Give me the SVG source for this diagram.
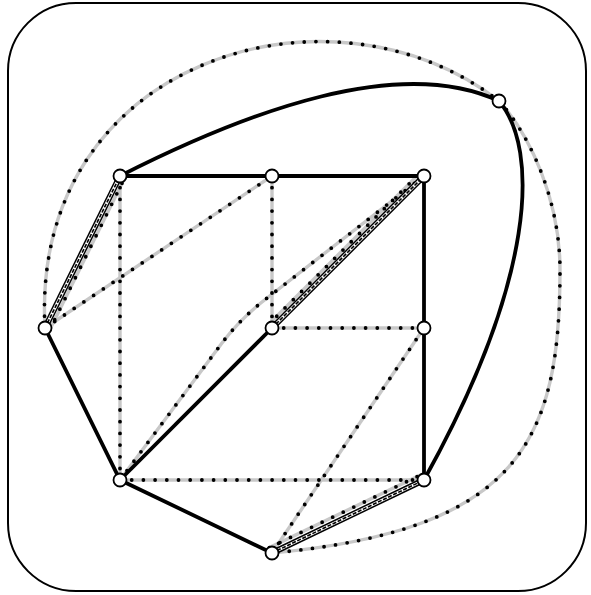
<svg xmlns="http://www.w3.org/2000/svg" xmlns:xlink="http://www.w3.org/1999/xlink" width="591" height="595" viewBox="0 0 591 595">
<style>
.frame{fill:none;stroke:#000;stroke-width:2}
.gl{fill:none;stroke:#c8c8c8;stroke-width:3.4}
.dt{fill:none;stroke:#000;stroke-width:3.8;stroke-linecap:round;stroke-dasharray:0 11.7}
.thick{fill:none;stroke:#000;stroke-width:3.8;stroke-linecap:round}
.so{fill:none;stroke:#000;stroke-width:6}
.si{fill:none;stroke:#fff;stroke-width:3}
.sd{fill:none;stroke:#000;stroke-width:1.6;stroke-dasharray:4 1.6}
.node circle{fill:#fff;stroke:#000;stroke-width:1.8}
</style>
<defs>
<path id="e1" d="M120,176 L120,480"/>
<path id="e2" d="M272,176 L272,328"/>
<path id="e3" d="M272,328 L424,328"/>
<path id="e4" d="M120,480 L424,480"/>
<path id="e5" d="M45,328 L272,176"/>
<path id="e6" d="M272,553 L424,328"/>
<path id="e7" d="M120,480 L222,343 Q239.5,320 262,302 L424,176"/>
<path id="e8" d="M49.5,330.2 L124.5,178.2"/>
<path id="e9" d="M268.5,324.5 L420.5,172.5"/>
<path id="e10" d="M269.4,547.6 L421.4,474.6"/>
<path id="e11" d="M45,328 C30,60 330,-30 499,101"/>
<path id="e12" d="M499,101 C530,135 560,200 560,270 C560,440 520,530 272,553"/>
<path id="s1" d="M45,328 L120,176"/>
<path id="s2" d="M272,328 L424,176"/>
<path id="s3" d="M272,553 L424,480"/>
</defs>
<rect class="frame" x="8" y="3" width="578" height="588" rx="68" ry="68"/>
<g id="connectors">
<g class="gl">
<use xlink:href="#e1"/><use xlink:href="#e2"/><use xlink:href="#e3"/><use xlink:href="#e4"/><use xlink:href="#e5"/><use xlink:href="#e6"/><use xlink:href="#e7"/><use xlink:href="#e8"/><use xlink:href="#e9"/><use xlink:href="#e10"/><use xlink:href="#e11"/><use xlink:href="#e12"/>
</g>
<g class="dt">
<use xlink:href="#e1"/><use xlink:href="#e2"/><use xlink:href="#e3"/><use xlink:href="#e4"/><use xlink:href="#e5"/><use xlink:href="#e6"/><use xlink:href="#e7"/><use xlink:href="#e8"/><use xlink:href="#e9"/><use xlink:href="#e10"/><use xlink:href="#e11"/><use xlink:href="#e12"/>
</g>
<path class="thick" d="M120,176 L424,176"/>
<path class="thick" d="M424,176 L424,480"/>
<path class="thick" d="M45,328 L120,480 L272,553"/>
<path class="thick" d="M120,480 L272,328"/>
<path class="thick" d="M120,176 C250,110 400,55 499,101"/>
<path class="thick" d="M499,101 C540,150 535,280 424,480"/>
<g class="so"><use xlink:href="#s1"/><use xlink:href="#s2"/><use xlink:href="#s3"/></g>
<g class="si"><use xlink:href="#s1"/><use xlink:href="#s2"/><use xlink:href="#s3"/></g>
<g class="sd"><use xlink:href="#s1"/><use xlink:href="#s2"/><use xlink:href="#s3"/></g>
</g>
<g id="n1" class="node"><circle cx="120" cy="176" r="6.5"/></g>
<g id="n2" class="node"><circle cx="272" cy="176" r="6.5"/></g>
<g id="n3" class="node"><circle cx="424" cy="176" r="6.5"/></g>
<g id="n4" class="node"><circle cx="45" cy="328" r="6.5"/></g>
<g id="n5" class="node"><circle cx="272" cy="328" r="6.5"/></g>
<g id="n6" class="node"><circle cx="424" cy="328" r="6.5"/></g>
<g id="n7" class="node"><circle cx="120" cy="480" r="6.5"/></g>
<g id="n8" class="node"><circle cx="424" cy="480" r="6.5"/></g>
<g id="n9" class="node"><circle cx="272" cy="553" r="6.5"/></g>
<g id="n10" class="node"><circle cx="499" cy="101" r="6.5"/></g>
</svg>
